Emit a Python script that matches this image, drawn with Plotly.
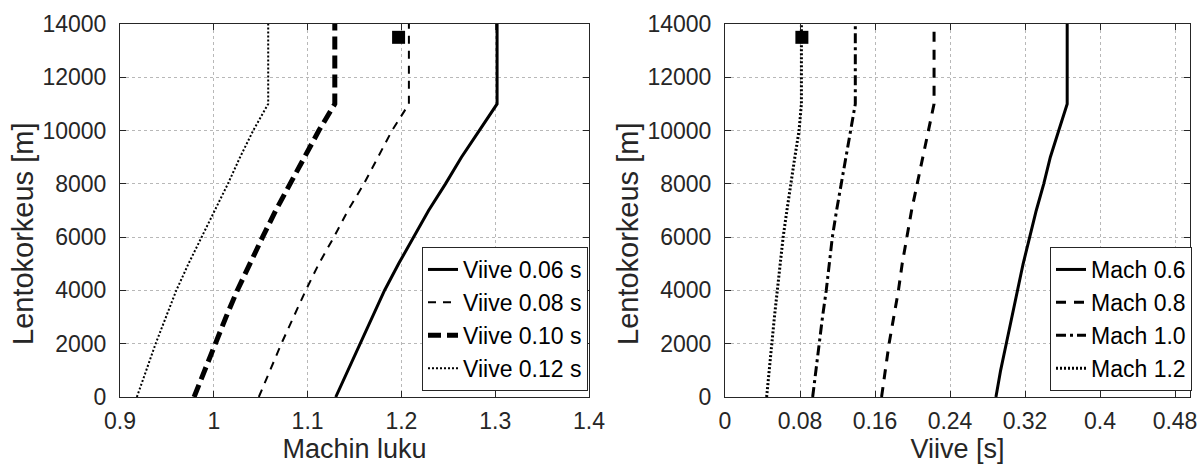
import plotly.graph_objects as go

# ---------------- data ----------------
altitude = [0, 1000, 2000, 3000, 4000, 5000, 6000, 7000, 8000, 9000, 10000, 11000, 14000]

# Left: Mach number vs altitude for different delays
mach_viive_006 = [1.130, 1.143, 1.156, 1.169, 1.182, 1.197, 1.213, 1.229, 1.247, 1.264, 1.283, 1.302, 1.302]
mach_viive_008 = [1.048, 1.060, 1.072, 1.085, 1.098, 1.112, 1.128, 1.143, 1.160, 1.175, 1.190, 1.208, 1.208]
mach_viive_010 = [0.979, 0.990, 1.001, 1.013, 1.025, 1.038, 1.052, 1.066, 1.081, 1.096, 1.112, 1.129, 1.129]
mach_viive_012 = [0.918, 0.928, 0.938, 0.949, 0.960, 0.973, 0.987, 1.001, 1.015, 1.028, 1.042, 1.058, 1.058]
left_names = ["Viive 0.06 s", "Viive 0.08 s", "Viive 0.10 s", "Viive 0.12 s"]
left_marker_x = [1.197]
left_marker_y = [13500]

# Right: delay vs altitude for different Mach numbers
viive_mach_06 = [0.289, 0.294, 0.300, 0.306, 0.312, 0.318, 0.325, 0.332, 0.340, 0.347, 0.356, 0.365, 0.365]
viive_mach_08 = [0.167, 0.171, 0.175, 0.180, 0.185, 0.189, 0.194, 0.199, 0.205, 0.211, 0.217, 0.223, 0.223]
viive_mach_10 = [0.0935, 0.097, 0.100, 0.104, 0.108, 0.1115, 0.1145, 0.119, 0.124, 0.129, 0.134, 0.139, 0.139]
viive_mach_12 = [0.0444, 0.047, 0.0498, 0.0527, 0.0558, 0.0587, 0.062, 0.066, 0.070, 0.0745, 0.079, 0.0815, 0.0815]
right_names = ["Mach 0.6", "Mach 0.8", "Mach 1.0", "Mach 1.2"]
right_marker_x = [0.082]
right_marker_y = [13500]

left_xticks = [0.9, 1.0, 1.1, 1.2, 1.3, 1.4]
left_xticktext = ["0.9", "1", "1.1", "1.2", "1.3", "1.4"]
right_xticks = [0, 0.08, 0.16, 0.24, 0.32, 0.40, 0.48]
right_xticktext = ["0", "0.08", "0.16", "0.24", "0.32", "0.4", "0.48"]
yticks = [0, 2000, 4000, 6000, 8000, 10000, 12000, 14000]
yticktext = ["0", "2000", "4000", "6000", "8000", "10000", "12000", "14000"]
y_title = "Lentokorkeus [m]"

# ---------------- figure ----------------
FONT = "Liberation Sans, Arial, sans-serif"
AX = "#262626"
GRID = "#b8b8b8"

fig = go.Figure()

left_series = [mach_viive_006, mach_viive_008, mach_viive_010, mach_viive_012]
left_styles = [("solid", 3), ("8px,7px", 2), ("13px,6px", 5), ("2px,2px", 2)]
for name, xs, (dash, w) in zip(left_names, left_series, left_styles):
    fig.add_trace(go.Scatter(x=xs, y=altitude, mode="lines", name=name,
                             line=dict(color="black", width=w, dash=dash),
                             xaxis="x", yaxis="y", legend="legend"))
fig.add_trace(go.Scatter(x=left_marker_x, y=left_marker_y, mode="markers",
                         marker=dict(symbol="square", size=13, color="black"),
                         showlegend=False, xaxis="x", yaxis="y"))

right_series = [viive_mach_06, viive_mach_08, viive_mach_10, viive_mach_12]
right_styles = [("solid", 3), ("10px,8px", 3), ("10px,4px,3px,4px", 3), ("2px,2px", 3)]
for name, xs, (dash, w) in zip(right_names, right_series, right_styles):
    fig.add_trace(go.Scatter(x=xs, y=altitude, mode="lines", name=name,
                             line=dict(color="black", width=w, dash=dash),
                             xaxis="x2", yaxis="y2", legend="legend2"))
fig.add_trace(go.Scatter(x=right_marker_x, y=right_marker_y, mode="markers",
                         marker=dict(symbol="square", size=13, color="black"),
                         showlegend=False, xaxis="x2", yaxis="y2"))

W, H = 1202, 469
yb, yt = 1 - 397 / H, 1 - 24 / H

axis_common = dict(
    showline=True, linecolor=AX, linewidth=1, mirror="ticks",
    ticks="inside", ticklen=6, tickcolor=AX,
    showgrid=True, gridcolor=GRID, griddash="dot", gridwidth=1,
    zeroline=False, automargin=False,
    tickfont=dict(family=FONT, size=23, color=AX),
)
xtitle_font = dict(family=FONT, size=27, color=AX)
ytitle_font = dict(family=FONT, size=29, color=AX)

fig.update_layout(
    width=W, height=H,
    margin=dict(l=0, r=0, t=0, b=0),
    paper_bgcolor="white", plot_bgcolor="white",
    font=dict(family=FONT, color=AX),
    xaxis=dict(domain=[120 / W, 589 / W], range=[0.9, 1.4],
               tickvals=left_xticks, ticktext=left_xticktext, ticklabelstandoff=3,
               title=dict(text="Machin luku", standoff=6, font=xtitle_font),
               anchor="y", **axis_common),
    yaxis=dict(domain=[yb, yt], range=[0, 14000], tickvals=yticks, ticktext=yticktext,
               ticklabelstandoff=8, anchor="x", **axis_common),
    xaxis2=dict(domain=[725 / W, 1190 / W], range=[0, 0.496],
                tickvals=right_xticks, ticktext=right_xticktext, ticklabelstandoff=3,
                title=dict(text="Viive [s]", standoff=6, font=xtitle_font),
                anchor="y2", **axis_common),
    yaxis2=dict(domain=[yb, yt], range=[0, 14000], tickvals=yticks, ticktext=yticktext,
                ticklabelstandoff=8, anchor="x2", **axis_common),
    legend=dict(x=588 / W, xanchor="right", y=1 - 391 / H, yanchor="bottom",
                bgcolor="white", bordercolor=AX, borderwidth=1,
                font=dict(family=FONT, size=23, color="black"),
                tracegroupgap=0, itemwidth=30),
    legend2=dict(x=1192 / W, xanchor="right", y=1 - 391 / H, yanchor="bottom",
                 bgcolor="white", bordercolor=AX, borderwidth=1,
                 font=dict(family=FONT, size=23, color="black"),
                 tracegroupgap=0, itemwidth=30),
    annotations=[
        dict(text=y_title, xref="paper", yref="paper", x=23 / W, y=1 - 234 / H,
             xanchor="center", yanchor="middle", textangle=-90, showarrow=False,
             font=ytitle_font),
        dict(text=y_title, xref="paper", yref="paper", x=628 / W, y=1 - 234 / H,
             xanchor="center", yanchor="middle", textangle=-90, showarrow=False,
             font=ytitle_font),
    ],
)

fig.write_html(
    "out.html",
    config={"displayModeBar": False},
    post_script="document.body.style.margin='0';document.body.style.overflow='hidden';",
)
